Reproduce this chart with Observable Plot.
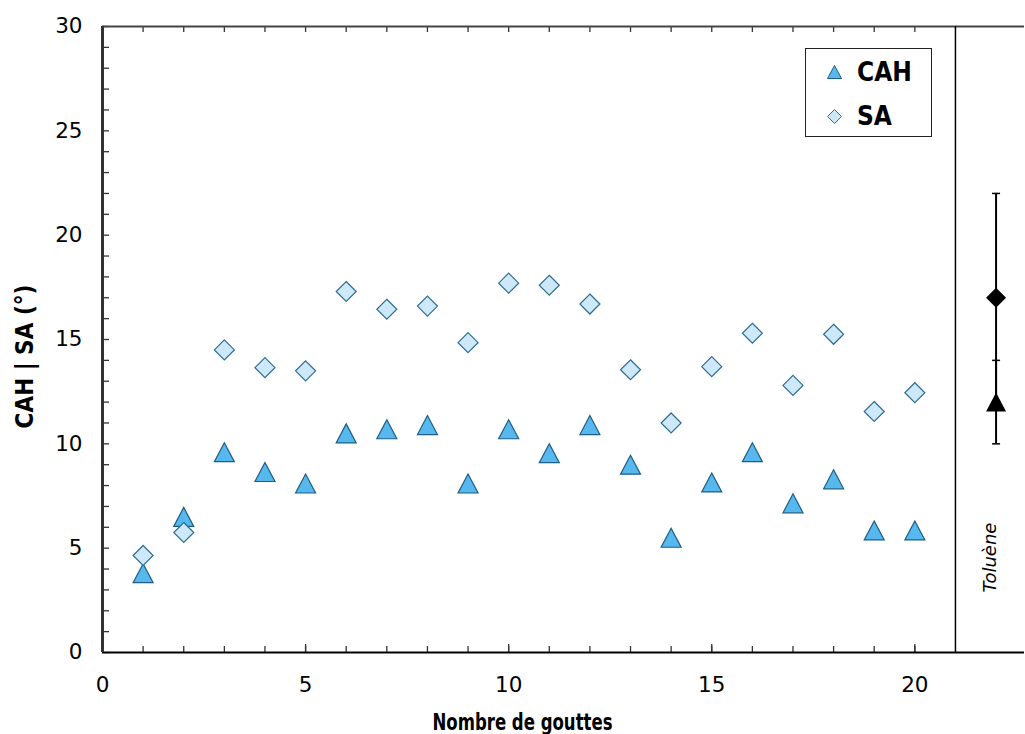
<!DOCTYPE html>
<html>
<head>
<meta charset="utf-8">
<script src="https://cdn.jsdelivr.net/npm/d3@7"></script>
<script src="https://cdn.jsdelivr.net/npm/@observablehq/plot@0.6"></script>
<style>
  html, body { margin: 0; padding: 0; background: #fff; }
  #wrap { position: relative; width: 1025px; height: 734px; overflow: hidden; }
  #legend {
    position: absolute; left: 805px; top: 48px; width: 125px; height: 87px;
    border: 1.3px solid #222; background: #fff;
    font-family: "DejaVu Sans Condensed", "DejaVu Sans", sans-serif;
    font-weight: bold; font-size: 26px; color: #000;
  }
  #legend .row { position: absolute; left: 21px; display: flex; align-items: center; }
  #legend .row svg { margin-right: 15px; }
</style>
</head>
<body>
<div id="wrap"></div>
<script>
// ---- data ----
const drops = [1, 2, 3, 4, 5, 6, 7, 8, 9, 10, 11, 12, 13, 14, 15, 16, 17, 18, 19, 20];
const cah = [3.8, 6.5, 9.6, 8.65, 8.1, 10.5, 10.7, 10.9, 8.1, 10.7, 9.55, 10.9, 9.0, 5.5, 8.15, 9.6, 7.15, 8.3, 5.85, 5.85];
const sa = [4.65, 5.75, 14.5, 13.65, 13.5, 17.3, 16.45, 16.6, 14.85, 17.7, 17.6, 16.7, 13.55, 11.0, 13.7, 15.3, 12.8, 15.25, 11.55, 12.45];
const seriesNames = ["CAH", "SA"];
const tolueneLabel = "Toluène";
const tolueneX = 22;
const tolueneCAH = 12, tolueneCAHErr = 2;
const tolueneSA = 17, tolueneSAErr = 5;
const separatorX = 21;
const xTickLabels = [0, 5, 10, 15, 20];
const yTickLabels = [0, 5, 10, 15, 20, 25, 30];
const xMinorTicks = d3.range(0, 21);
const yMinorTicks = d3.range(0, 31);
const xTitle = "Nombre de gouttes";
const yTitle = "CAH | SA (°)";

// ---- styles ----
const W = 1025, H = 734;
const mL = 102, mR = 1, mT = 26, mB = 82;
const plotW = W - mL - mR, plotH = H - mT - mB;
const cahFill = "#56B8EC", cahStroke = "#1E5D86";
const saFill = "#CDE9F9", saStroke = "#2F6D92";
const font = "'DejaVu Sans', sans-serif";
const boldFont = "'DejaVu Sans Condensed', 'DejaVu Sans', sans-serif";

const triangle = { draw(ctx, size) { const r = Math.sqrt(size / Math.PI); ctx.moveTo(0, -0.95 * r); ctx.lineTo(r, 0.95 * r); ctx.lineTo(-r, 0.95 * r); ctx.closePath(); } };
const diamond = { draw(ctx, size) { const r = Math.sqrt(size / Math.PI); ctx.moveTo(0, -r); ctx.lineTo(r, 0); ctx.lineTo(0, r); ctx.lineTo(-r, 0); ctx.closePath(); } };
const cap = { draw(ctx, size) { const r = Math.sqrt(size / Math.PI); ctx.moveTo(-0.4 * r, 0); ctx.lineTo(0.4 * r, 0); } };

const rows = drops.map((n, i) => ({ n, cah: cah[i], sa: sa[i] }));
const tolRows = [
  { x: tolueneX, v: tolueneSA, lo: tolueneSA - tolueneSAErr, hi: tolueneSA + tolueneSAErr, s: "SA" },
  { x: tolueneX, v: tolueneCAH, lo: tolueneCAH - tolueneCAHErr, hi: tolueneCAH + tolueneCAHErr, s: "CAH" }
];
const capRows = tolRows.flatMap(d => [{ x: d.x, y: d.lo }, { x: d.x, y: d.hi }]);
const isMajorX = d => d % 5 === 0;

const chart = Plot.plot({
  width: W, height: H,
  marginLeft: mL, marginRight: mR, marginTop: mT, marginBottom: mB,
  style: { fontFamily: font, fontSize: "21px", color: "#000", background: "#fff", overflow: "visible" },
  x: { domain: [0, 22.7], label: null },
  y: { domain: [0, 30], label: null },
  marks: [
    // inward ticks bottom
    Plot.tickX(xMinorTicks, { x: d => d, insetTop: plotH - 6, stroke: "#333", strokeWidth: 1.3 }),
    Plot.tickX(xMinorTicks.filter(isMajorX), { x: d => d, insetTop: plotH - 8, stroke: "#333", strokeWidth: 1.3 }),
    // inward ticks top
    Plot.tickX(xMinorTicks, { x: d => d, insetBottom: plotH - 6, stroke: "#333", strokeWidth: 1.3 }),
    // inward ticks left
    Plot.tickY(yMinorTicks, { y: d => d, insetRight: plotW - 7, stroke: "#333", strokeWidth: 1.3 }),
    // frame lines
    Plot.ruleY([30], { stroke: "#444", strokeWidth: 2 }),
    Plot.ruleY([0], { stroke: "#000", strokeWidth: 2 }),
    Plot.ruleX([0], { stroke: "#333", strokeWidth: 3 }),
    Plot.ruleX([separatorX], { stroke: "#000", strokeWidth: 1.5 }),
    // tick labels
    Plot.axisX(xTickLabels, { tickSize: 0, tickPadding: 24, label: null, fontSize: 21.5 }),
    Plot.axisY(yTickLabels, { tickSize: 0, tickPadding: 20, label: null, fontSize: 21.5 }),
    // data
    Plot.dot(rows, { x: "n", y: "cah", symbol: triangle, r: 10, fill: cahFill, stroke: cahStroke, strokeWidth: 1.2 }),
    Plot.dot(rows, { x: "n", y: "sa", symbol: diamond, r: 10, fill: saFill, stroke: saStroke, strokeWidth: 1.2 }),
    // toluene
    Plot.ruleX(tolRows, { x: "x", y1: "lo", y2: "hi", stroke: "#000", strokeWidth: 2 }),
    Plot.dot(capRows, { x: "x", y: "y", symbol: cap, r: 10, stroke: "#000", strokeWidth: 1.5 }),
    Plot.dot(tolRows.filter(d => d.s === "SA"), { x: "x", y: "v", symbol: diamond, r: 10, fill: "#000" }),
    Plot.dot(tolRows.filter(d => d.s === "CAH"), { x: "x", y: "v", symbol: triangle, r: 10, fill: "#000" }),
    Plot.text([tolueneLabel], { x: () => tolueneX, frameAnchor: "bottom", dy: -95, rotate: -90, fontStyle: "italic", fontSize: 18, fill: "#000" }),
    // axis titles
    Plot.text([xTitle], { frameAnchor: "bottom", textAnchor: "middle", dx: -41, dy: 77, lineAnchor: "bottom", fontFamily: boldFont, fontWeight: "bold", fontSize: 23, fill: "#000" }),
    Plot.text([yTitle], { frameAnchor: "left", textAnchor: "middle", dx: -77, dy: 17, rotate: -90, fontFamily: boldFont, fontWeight: "bold", fontSize: 24, fill: "#000" })
  ]
});

// condense the x title to the reference's width
d3.select(chart).selectAll("text")
  .filter(function () { return this.textContent === xTitle; })
  .attr("textLength", 180)
  .attr("lengthAdjust", "spacingAndGlyphs");

const wrap = document.getElementById("wrap");
wrap.appendChild(chart);

// legend (HTML overlay inside the plot area)
const legend = document.createElement("div");
legend.id = "legend";
const triPath = "M7.5,0.5 L14.5,13.5 L0.5,13.5 Z";
const diaPath = "M7.5,0.5 L14.5,7.5 L7.5,14.5 L0.5,7.5 Z";
legend.innerHTML = `
  <div class="row" style="top:8px"><svg width="15" height="15"><path d="${triPath}" fill="${cahFill}" stroke="${cahStroke}" stroke-width="1"/></svg><span>${seriesNames[0]}</span></div>
  <div class="row" style="top:52px"><svg width="15" height="15"><path d="${diaPath}" fill="${saFill}" stroke="${saStroke}" stroke-width="1"/></svg><span>${seriesNames[1]}</span></div>`;
wrap.appendChild(legend);
</script>
</body>
</html>
